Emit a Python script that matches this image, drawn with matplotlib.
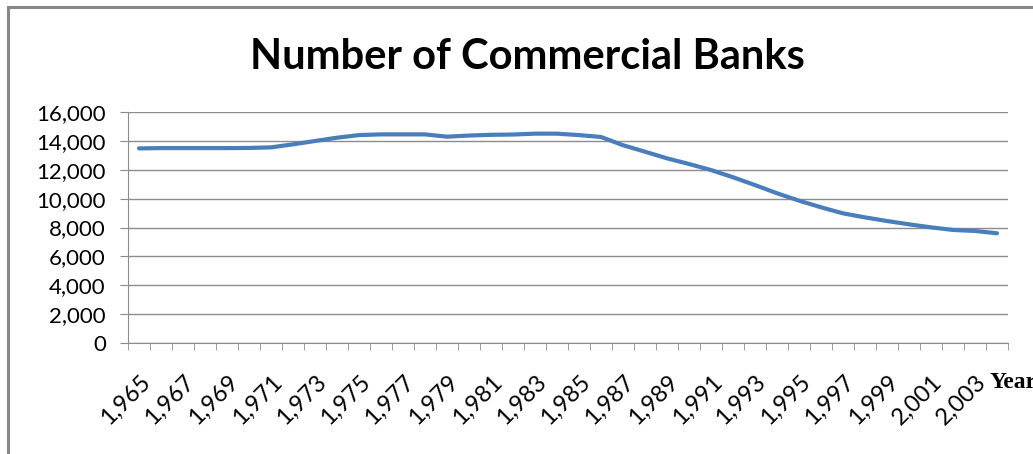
import matplotlib
matplotlib.use('Agg')
import matplotlib.pyplot as plt
from matplotlib.patches import Rectangle
from matplotlib.ticker import FuncFormatter

years = list(range(1965, 2005))
banks = [13480, 13500, 13500, 13500, 13500, 13510, 13550, 13760, 13990, 14220,
         14400, 14450, 14450, 14450, 14290, 14370, 14420, 14440, 14500, 14500,
         14400, 14270, 13700, 13250, 12790, 12400, 11980, 11480, 10940, 10370,
         9860, 9400, 8980, 8700, 8450, 8220, 8010, 7830, 7760, 7600]
yticks = [0, 2000, 4000, 6000, 8000, 10000, 12000, 14000, 16000]

W, H = 1033, 454
fig = plt.figure(figsize=(W / 100, H / 100), dpi=100)

# outer chart border (only top and left show in the crop)
fig.patches.append(Rectangle((8 / W, -0.2), 1.5, 1.2 - 7 / H, transform=fig.transFigure,
                             fill=False, edgecolor='#878787', linewidth=2.2))

ax = fig.add_axes([128 / W, (H - 343) / H, 880 / W, 231 / H])

x = list(range(len(years)))
ax.plot(x, banks, color='#4A7EBB', linewidth=3, solid_capstyle='round', solid_joinstyle='round')

ax.set_xlim(-0.5, len(years) - 0.5)
ax.set_ylim(0, 16000)
ax.set_yticks(yticks)
ax.yaxis.set_major_formatter(FuncFormatter(lambda v, p: f'{int(v):,}'))
ax.grid(axis='y', color='#8c8c8c', linewidth=1)
ax.set_axisbelow(True)

ax.set_xticks(x[::2])
ax.set_xticklabels([f'{y:,}' for y in years[::2]], rotation=45, ha='right',
                   rotation_mode='anchor', fontfamily='Lato', fontsize=17)
ax.set_xticks([i - 0.5 for i in range(len(years) + 1)], minor=True)
ax.tick_params(axis='x', which='major', length=0, pad=20)
ax.tick_params(axis='x', which='minor', length=5, color='#8c8c8c', direction='out')
ax.tick_params(axis='y', length=6, color='#8c8c8c', pad=10)
for lab in ax.get_yticklabels():
    lab.set_fontfamily('Lato')
    lab.set_fontsize(16)

for s in ['top', 'right']:
    ax.spines[s].set_visible(False)
ax.spines['left'].set_color('#8c8c8c')
ax.spines['bottom'].set_color('#8c8c8c')

fig.text(527 / W, 1 - 57 / H, 'Number of Commercial Banks', ha='center', va='center',
         fontfamily='Lato', fontweight='bold', fontsize=30)
fig.text(990 / W, 1 - 383 / H, 'Year', ha='left', va='center',
         fontfamily='Liberation Serif', fontweight='bold', fontsize=17)

fig.savefig('out.png', dpi=100)
